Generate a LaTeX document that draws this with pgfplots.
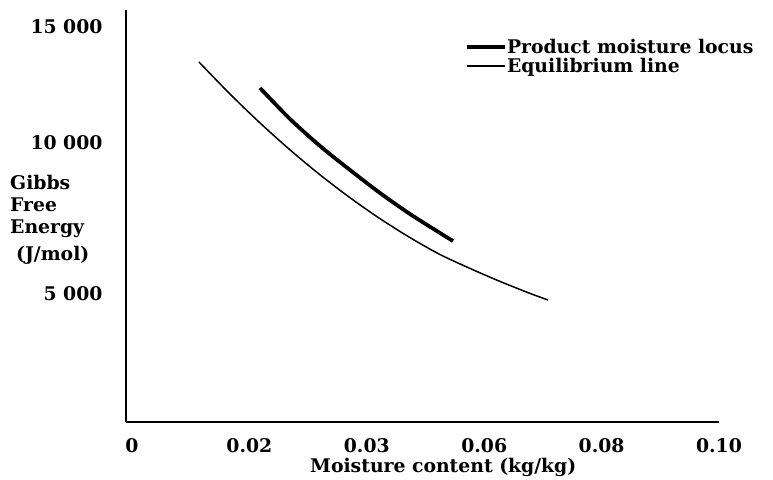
\documentclass[border=0pt]{standalone}
\usepackage{fontspec}
\setmainfont{DejaVu Serif}
\usepackage{pgfplots}
\pgfplotsset{compat=1.18}
\begin{document}
\begin{tikzpicture}
\begin{axis}[
  name=ax,
  scale only axis, width=593bp, height=412bp,
  xmin=-0.00102, xmax=0.10, ymin=206, ymax=15636,
  axis x line*=bottom, axis y line*=left,
  axis line style={-, line width=1.3bp, black},
  major tick length=0pt,
  font=\bfseries\fontsize{18.8bp}{21bp}\selectfont,
  xtick={0,0.02,0.04,0.06,0.08,0.10},
  xticklabels={0,0.02,0.03,0.06,0.08,0.10},
  xticklabel style={anchor=base, yshift=-30bp},
  ytick={5000,10655,15000},
  yticklabels={5 000,10 000,15 000},
  yticklabel style={anchor=east, xshift=-20bp},
  xlabel={Moisture content (kg/kg)},
  xlabel style={at={(axis description cs:0.535,0)}, anchor=base, yshift=-50bp, inner sep=0pt},
  legend style={draw=none, fill=none, at={(rel axis cs:0.5717,0.927)}, anchor=north west,
     row sep=5bp, inner sep=0pt, font=\bfseries\fontsize{18.8bp}{21bp}\selectfont,
     nodes={inner sep=0pt, text height=13.7bp, text depth=0bp},
     /tikz/every even column/.append style={column sep=5bp}},
  legend cell align=left,
  legend image code/.code={\draw[#1] (0bp,0bp) -- (38bp,0bp);},
  clip=false,
]
\addplot[black, line width=3.8bp, smooth] coordinates {
 (0.02181,12715) (0.02692,11554) (0.03203,10543) (0.03714,9644) (0.04225,8782)
 (0.04736,7996) (0.05247,7284) (0.05468,6985)
};
\addlegendentry{Product moisture locus}
\addplot[black, line width=1.5bp, smooth] coordinates {
 (0.01141,13688) (0.01652,12527) (0.02164,11441) (0.02675,10430) (0.03186,9494)
 (0.03697,8633) (0.04208,7846) (0.04719,7135) (0.05230,6498) (0.05741,5974)
 (0.06252,5487) (0.06763,5037) (0.07087,4775)
};
\addlegendentry{Equilibrium line}
\node[anchor=north west, align=left, inner sep=0pt, font=\bfseries\fontsize{18.8bp}{22bp}\selectfont]
  at ([xshift=-116bp]rel axis cs:0,0.6) {Gibbs\\Free\\Energy\\[5bp]\hspace*{6bp}(J/mol)};
\end{axis}
\pgfresetboundingbox
\path ([xshift=-126bp,yshift=-58bp]ax.south west) rectangle ([xshift=54bp,yshift=10bp]ax.north east);
\end{tikzpicture}
\end{document}
